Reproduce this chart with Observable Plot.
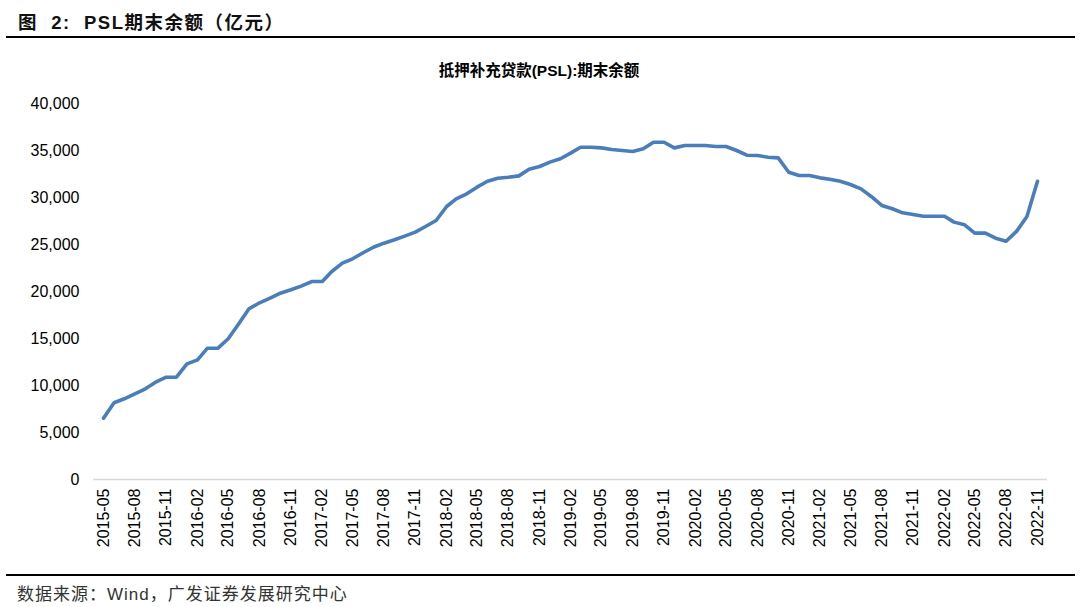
<!DOCTYPE html>
<html>
<head>
<meta charset="utf-8">
<script src="https://cdn.jsdelivr.net/npm/d3@7"></script>
<script src="https://cdn.jsdelivr.net/npm/@observablehq/plot@0.6"></script>
<style>
  html, body { margin: 0; padding: 0; background: #fff; width: 1080px; height: 607px; overflow: hidden; }
  body { position: relative; font-family: "Liberation Sans", Arial, "Noto Sans CJK SC", sans-serif; }
  .title { position: absolute; left: 18px; top: 8px; font-size: 18.5px; letter-spacing: 1.5px; font-weight: bold; color: #111; white-space: nowrap; }
  .rule { position: absolute; left: 6px; width: 1069px; height: 2px; background: #000; }
  .ctitle { position: absolute; left: 0; width: 1078px; top: 58px; text-align: center; font-size: 15.5px; font-weight: bold; color: #000; white-space: nowrap; }
  .foot { position: absolute; left: 17px; top: 580px; font-size: 17px; color: #333; letter-spacing: 1px; white-space: nowrap; }
  #chart { position: absolute; left: 0; top: 90px; }
</style>
</head>
<body>
<div class="title">图&nbsp;&nbsp;2:&nbsp;&nbsp;PSL期末余额（亿元）</div>
<div class="rule" style="top:36px"></div>
<div class="ctitle">抵押补充贷款(PSL):期末余额</div>
<div id="chart"></div>
<div class="rule" style="top:574px"></div>
<div class="foot">数据来源：Wind，广发证券发展研究中心</div>
<script>
const months = [
  "2015-05","2015-06","2015-07","2015-08","2015-09","2015-10","2015-11","2015-12",
  "2016-01","2016-02","2016-03","2016-04","2016-05","2016-06","2016-07","2016-08","2016-09","2016-10","2016-11","2016-12",
  "2017-01","2017-02","2017-03","2017-04","2017-05","2017-06","2017-07","2017-08","2017-09","2017-10","2017-11","2017-12",
  "2018-01","2018-02","2018-03","2018-04","2018-05","2018-06","2018-07","2018-08","2018-09","2018-10","2018-11","2018-12",
  "2019-01","2019-02","2019-03","2019-04","2019-05","2019-06","2019-07","2019-08","2019-09","2019-10","2019-11","2019-12",
  "2020-01","2020-02","2020-03","2020-04","2020-05","2020-06","2020-07","2020-08","2020-09","2020-10","2020-11","2020-12",
  "2021-01","2021-02","2021-03","2021-04","2021-05","2021-06","2021-07","2021-08","2021-09","2021-10","2021-11","2021-12",
  "2022-01","2022-02","2022-03","2022-04","2022-05","2022-06","2022-07","2022-08","2022-09","2022-10","2022-11"
];
const pslBalance = [
  6520, 8160, 8585, 9117, 9650, 10350, 10880, 10880,
  12300, 12730, 13970, 13970, 14970, 16560, 18160, 18800, 19290, 19820, 20180, 20570,
  21060, 21060, 22130, 23010, 23480, 24120, 24710, 25140, 25500, 25890, 26310, 26910,
  27550, 29040, 29860, 30390, 31100, 31730, 32050, 32160, 32300, 33010, 33300, 33760,
  34120, 34750, 35350, 35350, 35280, 35100, 35000, 34890, 35180, 35880, 35880, 35280,
  35530, 35530, 35530, 35420, 35420, 35000, 34500, 34470, 34290, 34220, 32690, 32340,
  32340, 32090, 31950, 31730, 31380, 30920, 30110, 29150, 28800, 28370, 28190, 28010,
  28010, 28010, 27380, 27090, 26210, 26210, 25670, 25350, 26420, 27980, 31730
];
const xTickLabels = [
  "2015-05","2015-08","2015-11","2016-02","2016-05","2016-08","2016-11","2017-02",
  "2017-05","2017-08","2017-11","2018-02","2018-05","2018-08","2018-11","2019-02",
  "2019-05","2019-08","2019-11","2020-02","2020-05","2020-08","2020-11","2021-02",
  "2021-05","2021-08","2021-11","2022-02","2022-05","2022-08","2022-11"
];
const yTicks = [0, 5000, 10000, 15000, 20000, 25000, 30000, 35000, 40000];

const parse = d3.utcParse("%Y-%m");
const data = months.map((m, i) => ({date: parse(m), value: pslBalance[i]}));

const chart = Plot.plot({
  width: 1080,
  height: 480,
  marginLeft: 98,
  marginRight: 38,
  marginTop: 13,
  marginBottom: 91,
  style: {fontFamily: "'Liberation Sans', Arial, sans-serif", fontSize: "16px", color: "#000", background: "transparent"},
  x: {type: "utc", domain: [parse("2015-05"), parse("2022-11")], inset: 5},
  y: {domain: [0, 40000]},
  marks: [
    Plot.axisY({ticks: yTicks, tickFormat: d3.format(","), tickSize: 0, tickPadding: 19, label: null, fontSize: 16}),
    Plot.axisX({ticks: xTickLabels.map(parse), tickFormat: d3.utcFormat("%Y-%m"), tickRotate: -90, tickSize: 0, tickPadding: 9, label: null, fontSize: 16}),
    Plot.ruleY([0], {stroke: "#d9d9d9", strokeWidth: 1.3, insetLeft: -5, insetRight: -5}),
    Plot.line(data, {x: "date", y: "value", stroke: "#4a7ebb", strokeWidth: 3.6, strokeLinejoin: "round", strokeLinecap: "round"})
  ]
});
document.getElementById("chart").appendChild(chart);
</script>
</body>
</html>
